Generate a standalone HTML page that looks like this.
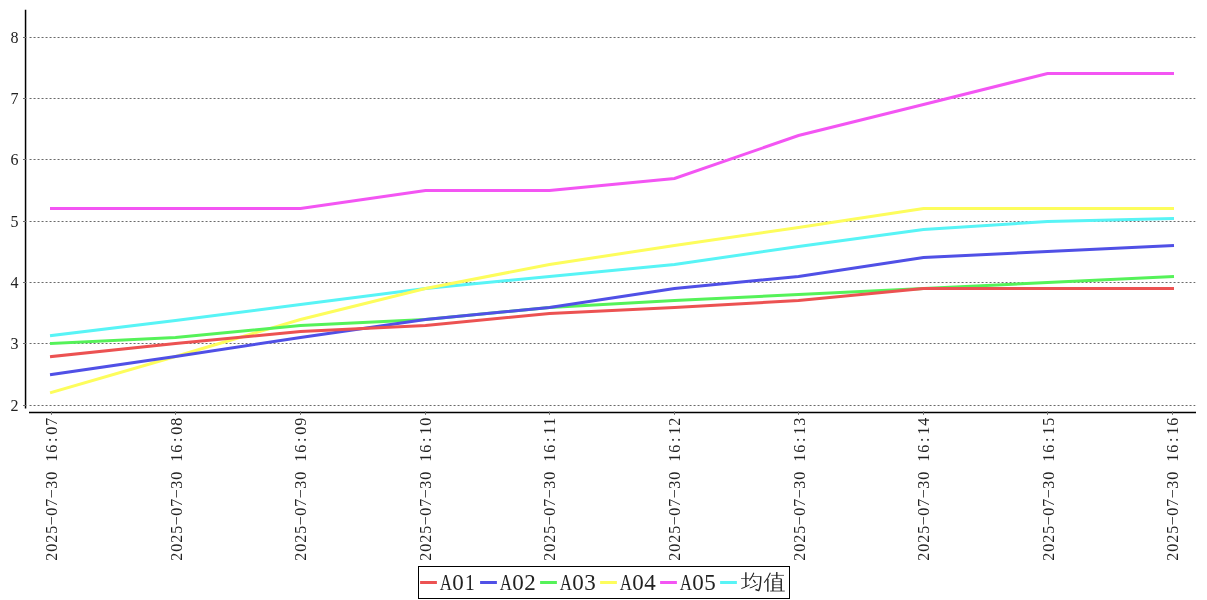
<!DOCTYPE html>
<html>
<head>
<meta charset="utf-8">
<title>chart</title>
<style>
html,body{margin:0;padding:0;background:#fff;}
body{width:1207px;height:600px;overflow:hidden;font-family:"Liberation Serif",serif;}
svg{display:block;will-change:transform;}
.yl{font-family:"Liberation Serif",serif;font-size:16px;fill:#222;}
.xl{font-family:"Liberation Serif",serif;font-size:16px;fill:#222;}
.lg{font-family:"Liberation Serif",serif;font-size:23px;fill:#222;}
</style>
</head>
<body>
<svg width="1207" height="600" viewBox="0 0 1207 600">
<rect x="0" y="0" width="1207" height="600" fill="#ffffff"/>
<g stroke="#6a6a6a" stroke-width="1" stroke-dasharray="2 2" fill="none">
<line x1="29.55" y1="405.50" x2="1195.3" y2="405.50"/>
<line x1="29.55" y1="343.50" x2="1195.3" y2="343.50"/>
<line x1="29.55" y1="282.50" x2="1195.3" y2="282.50"/>
<line x1="29.55" y1="221.50" x2="1195.3" y2="221.50"/>
<line x1="29.55" y1="159.50" x2="1195.3" y2="159.50"/>
<line x1="29.55" y1="98.50" x2="1195.3" y2="98.50"/>
<line x1="29.55" y1="37.50" x2="1195.3" y2="37.50"/>
</g>
<g fill="none" stroke-width="3" stroke-linecap="square" stroke-linejoin="miter">
<polyline stroke="#58f4f6" points="51.50,335.50 175.50,320.50 300.50,304.50 425.50,288.50 549.50,276.50 674.50,264.50 798.50,246.50 923.50,229.50 1047.50,221.50 1172.50,218.50"/>
<polyline stroke="#f355f3" points="51.50,208.50 175.50,208.50 300.50,208.50 425.50,190.50 549.50,190.50 674.50,178.50 798.50,135.50 923.50,104.50 1047.50,73.50 1172.50,73.50"/>
<polyline stroke="#fdfd5c" points="51.50,392.50 175.50,356.50 300.50,319.50 425.50,288.50 549.50,264.50 674.50,245.50 798.50,227.50 923.50,208.50 1047.50,208.50 1172.50,208.50"/>
<polyline stroke="#55f259" points="51.50,343.50 175.50,337.50 300.50,325.50 425.50,319.50 549.50,307.50 674.50,300.50 798.50,294.50 923.50,288.50 1047.50,282.50 1172.50,276.50"/>
<polyline stroke="#5050e6" points="51.50,374.50 175.50,356.50 300.50,337.50 425.50,319.50 549.50,307.50 674.50,288.50 798.50,276.50 923.50,257.50 1047.50,251.50 1172.50,245.50"/>
<polyline stroke="#ec5252" points="51.50,356.50 175.50,343.50 300.50,331.50 425.50,325.50 549.50,313.50 674.50,307.50 798.50,300.50 923.50,288.50 1047.50,288.50 1172.50,288.50"/>
</g>
<g stroke="#000" stroke-width="1.5" fill="none">
<line x1="25.55" y1="9.8" x2="25.55" y2="408.6"/>
<line x1="29" y1="412.5" x2="1196" y2="412.5"/>
</g>
<g stroke="#6a6a6a" stroke-width="1" fill="none">
<line x1="23" y1="405.50" x2="26.4" y2="405.50"/>
<line x1="23" y1="343.50" x2="26.4" y2="343.50"/>
<line x1="23" y1="282.50" x2="26.4" y2="282.50"/>
<line x1="23" y1="221.50" x2="26.4" y2="221.50"/>
<line x1="23" y1="159.50" x2="26.4" y2="159.50"/>
<line x1="23" y1="98.50" x2="26.4" y2="98.50"/>
<line x1="23" y1="37.50" x2="26.4" y2="37.50"/>
<line x1="51.50" y1="411.4" x2="51.50" y2="414.8"/>
<line x1="175.50" y1="411.4" x2="175.50" y2="414.8"/>
<line x1="300.50" y1="411.4" x2="300.50" y2="414.8"/>
<line x1="425.50" y1="411.4" x2="425.50" y2="414.8"/>
<line x1="549.50" y1="411.4" x2="549.50" y2="414.8"/>
<line x1="674.50" y1="411.4" x2="674.50" y2="414.8"/>
<line x1="798.50" y1="411.4" x2="798.50" y2="414.8"/>
<line x1="923.50" y1="411.4" x2="923.50" y2="414.8"/>
<line x1="1047.50" y1="411.4" x2="1047.50" y2="414.8"/>
<line x1="1172.50" y1="411.4" x2="1172.50" y2="414.8"/>
</g>
<g class="yl">
<text x="10.6" y="411.00">2</text>
<text x="10.6" y="349.00">3</text>
<text x="10.6" y="288.00">4</text>
<text x="10.6" y="227.00">5</text>
<text x="10.6" y="165.00">6</text>
<text x="10.6" y="104.00">7</text>
<text x="10.6" y="43.00">8</text>
</g>
<g class="xl" text-anchor="middle">
<text transform="translate(57.20,561.2) rotate(-90)" x="4.5 13.5 22.5 31.5 40.5 49.5 58.5 67.5 76.5 85.5 94.5 103.5 112.5 121.5 130.5 139.5" y="0">2025−07−30 16:07</text>
<text transform="translate(181.75,561.2) rotate(-90)" x="4.5 13.5 22.5 31.5 40.5 49.5 58.5 67.5 76.5 85.5 94.5 103.5 112.5 121.5 130.5 139.5" y="0">2025−07−30 16:08</text>
<text transform="translate(306.30,561.2) rotate(-90)" x="4.5 13.5 22.5 31.5 40.5 49.5 58.5 67.5 76.5 85.5 94.5 103.5 112.5 121.5 130.5 139.5" y="0">2025−07−30 16:09</text>
<text transform="translate(430.85,561.2) rotate(-90)" x="4.5 13.5 22.5 31.5 40.5 49.5 58.5 67.5 76.5 85.5 94.5 103.5 112.5 121.5 130.5 139.5" y="0">2025−07−30 16:10</text>
<text transform="translate(555.40,561.2) rotate(-90)" x="4.5 13.5 22.5 31.5 40.5 49.5 58.5 67.5 76.5 85.5 94.5 103.5 112.5 121.5 130.5 139.5" y="0">2025−07−30 16:11</text>
<text transform="translate(679.95,561.2) rotate(-90)" x="4.5 13.5 22.5 31.5 40.5 49.5 58.5 67.5 76.5 85.5 94.5 103.5 112.5 121.5 130.5 139.5" y="0">2025−07−30 16:12</text>
<text transform="translate(804.50,561.2) rotate(-90)" x="4.5 13.5 22.5 31.5 40.5 49.5 58.5 67.5 76.5 85.5 94.5 103.5 112.5 121.5 130.5 139.5" y="0">2025−07−30 16:13</text>
<text transform="translate(929.05,561.2) rotate(-90)" x="4.5 13.5 22.5 31.5 40.5 49.5 58.5 67.5 76.5 85.5 94.5 103.5 112.5 121.5 130.5 139.5" y="0">2025−07−30 16:14</text>
<text transform="translate(1053.60,561.2) rotate(-90)" x="4.5 13.5 22.5 31.5 40.5 49.5 58.5 67.5 76.5 85.5 94.5 103.5 112.5 121.5 130.5 139.5" y="0">2025−07−30 16:15</text>
<text transform="translate(1178.15,561.2) rotate(-90)" x="4.5 13.5 22.5 31.5 40.5 49.5 58.5 67.5 76.5 85.5 94.5 103.5 112.5 121.5 130.5 139.5" y="0">2025−07−30 16:16</text>
</g>
<rect x="418.5" y="566.5" width="371" height="32" fill="#fff" stroke="#000" stroke-width="1"/>
<g stroke-width="3" stroke-linecap="butt" fill="none">
<line x1="420.1" y1="582.5" x2="436.9" y2="582.5" stroke="#ec5252"/>
<line x1="480.1" y1="582.5" x2="496.9" y2="582.5" stroke="#5050e6"/>
<line x1="540.1" y1="582.5" x2="556.9" y2="582.5" stroke="#55f259"/>
<line x1="600.1" y1="582.5" x2="616.9" y2="582.5" stroke="#fdfd5c"/>
<line x1="660.1" y1="582.5" x2="676.9" y2="582.5" stroke="#f355f3"/>
<line x1="720.1" y1="582.5" x2="736.9" y2="582.5" stroke="#58f4f6"/>
</g>
<g class="lg" text-anchor="middle">
<text transform="translate(446.0,590.2) scale(0.74,1)">A</text>
<text transform="translate(458.0,590.2) scale(1.0,1)">0</text>
<text transform="translate(470.0,590.2) scale(0.85,1)">1</text>
<text transform="translate(506.0,590.2) scale(0.74,1)">A</text>
<text transform="translate(518.0,590.2) scale(1.0,1)">0</text>
<text transform="translate(530.0,590.2) scale(1.0,1)">2</text>
<text transform="translate(566.0,590.2) scale(0.74,1)">A</text>
<text transform="translate(578.0,590.2) scale(1.0,1)">0</text>
<text transform="translate(590.0,590.2) scale(1.0,1)">3</text>
<text transform="translate(626.0,590.2) scale(0.74,1)">A</text>
<text transform="translate(638.0,590.2) scale(1.0,1)">0</text>
<text transform="translate(650.0,590.2) scale(1.0,1)">4</text>
<text transform="translate(686.0,590.2) scale(0.74,1)">A</text>
<text transform="translate(698.0,590.2) scale(1.0,1)">0</text>
<text transform="translate(710.0,590.2) scale(1.0,1)">5</text>
</g>
<g fill="none" stroke="#222" stroke-linejoin="round">
<path d="M741.07,578.53 L749.60,578.53" stroke-width="0.7" stroke-linecap="butt"/>
<path d="M745.87,572.29 L745.87,587.07" stroke-width="1.4" stroke-linecap="butt"/>
<path d="M741.33,588.51 L744.00,587.60 L749.60,584.77" stroke-width="1.0" stroke-linecap="butt"/>
<path d="M753.87,572.67 L752.00,576.67 L749.33,580.67" stroke-width="1.1" stroke-linecap="butt"/>
<path d="M752.27,576.51 L760.80,576.51" stroke-width="0.7" stroke-linecap="butt"/>
<path d="M760.80,576.24 C760.64,583.60 760.00,588.40 758.67,590.64 L755.47,589.47" stroke-width="1.4"/>
<path d="M753.33,579.97 L755.47,582.96" stroke-width="1.3" stroke-linecap="butt"/>
<path d="M749.76,587.97 L752.00,587.23 L757.76,584.29" stroke-width="1.0" stroke-linecap="butt"/>
<path d="M770.40,572.67 L768.00,577.47 L764.16,582.80" stroke-width="1.1" stroke-linecap="butt"/>
<path d="M767.84,578.80 L767.84,591.71" stroke-width="1.4" stroke-linecap="butt"/>
<path d="M771.20,575.39 L784.00,575.39" stroke-width="0.7" stroke-linecap="butt"/>
<path d="M776.80,571.97 L776.80,578.64" stroke-width="1.4" stroke-linecap="butt"/>
<path d="M772.91,578.64 L772.91,591.07" stroke-width="1.4" stroke-linecap="butt"/>
<path d="M781.23,578.64 L781.23,591.07" stroke-width="1.4" stroke-linecap="butt"/>
<path d="M772.91,578.64 L781.23,578.64" stroke-width="0.7" stroke-linecap="butt"/>
<path d="M772.91,581.63 L781.23,581.63" stroke-width="0.7" stroke-linecap="butt"/>
<path d="M772.91,584.67 L781.23,584.67" stroke-width="0.7" stroke-linecap="butt"/>
<path d="M772.91,587.76 L781.23,587.76" stroke-width="0.9" stroke-linecap="butt"/>
<path d="M770.13,591.07 L784.80,591.07" stroke-width="0.8" stroke-linecap="butt"/>
</g>
</svg>
</body>
</html>
